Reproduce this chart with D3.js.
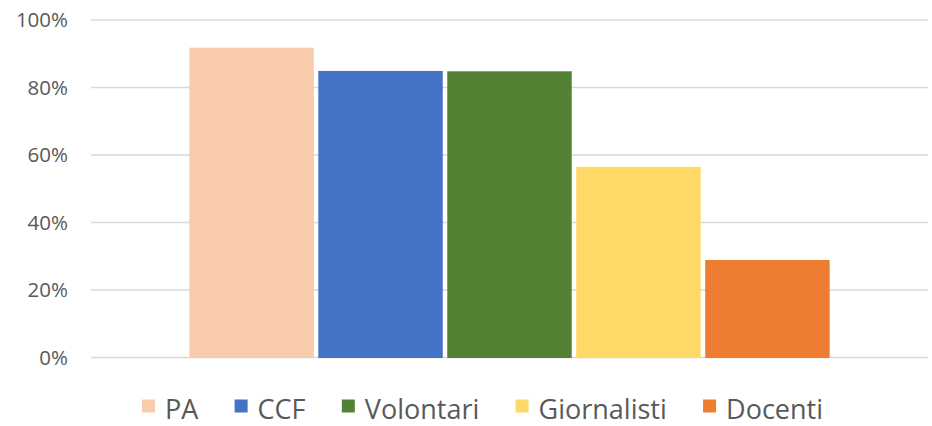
<!DOCTYPE html>
<html>
<head>
<meta charset="utf-8">
<script src="https://cdn.jsdelivr.net/npm/d3@7"></script>
<style>
  body { margin: 0; background: #fff; }
  text { font-family: "Open Sans", sans-serif; fill: #595959; }
</style>
</head>
<body>
<div id="chart"></div>
<script>
// series and values (share of respondents)
const series = ["PA", "CCF", "Volontari", "Giornalisti", "Docenti"];
const values = [0.918, 0.849, 0.848, 0.565, 0.289];
const colors = ["#f8cbad", "#4472c4", "#548235", "#ffd966", "#ed7d31"];
const yTicks = [0, 0.2, 0.4, 0.6, 0.8, 1.0];

const width = 932, height = 426;
const margin = {top: 20, right: 4, bottom: 68.5, left: 91};

const svg = d3.select("#chart")
    .append("svg")
    .attr("width", width)
    .attr("height", height);

const xScale = d3.scaleBand()
    .domain(series)
    .range([margin.left, width - margin.right])
    .paddingInner(0)
    .paddingOuter(0.745);

const yScale = d3.scaleLinear()
    .domain([0, 1])
    .range([height - margin.bottom, margin.top]);

// gridlines
svg.append("g")
    .selectAll("line")
    .data(yTicks)
    .enter()
    .append("line")
    .attr("x1", margin.left)
    .attr("x2", width - margin.right)
    .attr("y1", (d) => yScale(d))
    .attr("y2", (d) => yScale(d))
    .attr("stroke", "#d9d9d9")
    .attr("stroke-width", 1.3);

// y labels
svg.append("g")
    .selectAll("text")
    .data(yTicks)
    .enter()
    .append("text")
    .attr("x", 68)
    .attr("y", (d) => yScale(d))
    .attr("dy", "0.35em")
    .attr("text-anchor", "end")
    .attr("font-size", "20.5px")
    .text((d) => d3.format(".0%")(d));

// bars
const gap = 4.5;
svg.append("g")
    .selectAll("rect")
    .data(series)
    .enter()
    .append("rect")
    .attr("x", (d) => xScale(d) + gap / 2)
    .attr("width", xScale.bandwidth() - gap)
    .attr("y", (d, i) => yScale(values[i]))
    .attr("height", (d, i) => yScale(0) - yScale(values[i]) + 0.5)
    .attr("fill", (d, i) => colors[i]);

// legend: spread between left and right edges seen in the original
const legend = svg.append("g");
const baseline = 418.5;
const legLeft = 142, legRight = 823, swatch = 13, textGap = 10;
const items = series.map((s, i) => {
    const r = legend.append("rect")
        .attr("y", baseline - 6 - swatch)
        .attr("width", swatch)
        .attr("height", swatch)
        .attr("fill", colors[i]);
    const t = legend.append("text")
        .attr("y", baseline)
        .attr("font-size", "27px")
        .text(s);
    return {r, t, w: t.node().getComputedTextLength()};
});
const used = d3.sum(items, (d) => swatch + textGap + d.w);
const between = (legRight - legLeft - used) / (items.length - 1);
let lx = legLeft;
items.forEach((d) => {
    d.r.attr("x", lx);
    d.t.attr("x", lx + swatch + textGap);
    lx += swatch + textGap + d.w + between;
});
</script>
</body>
</html>
